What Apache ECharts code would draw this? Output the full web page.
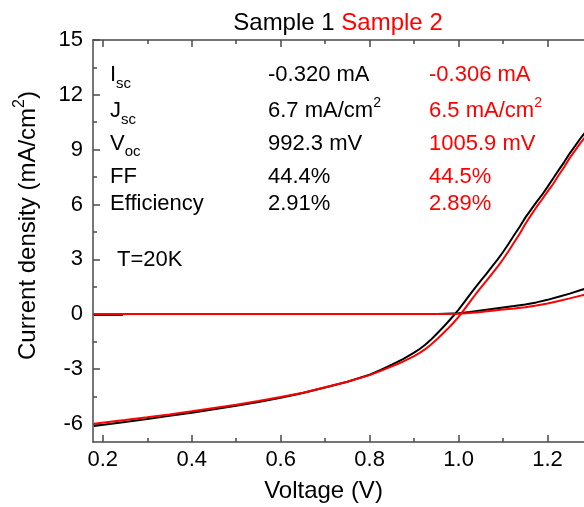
<!DOCTYPE html>
<html><head><meta charset="utf-8">
<script src="https://cdn.jsdelivr.net/npm/echarts@6/dist/echarts.min.js"></script>
<style>html,body{margin:0;padding:0;background:#fff}#c{width:584px;height:507px}</style>
</head><body><div id="c"></div>
<script>
const FONT = "'Liberation Sans', Arial, sans-serif";

// ---- data ----
const lightV = [0.18, 0.25, 0.3, 0.35, 0.4, 0.45, 0.5, 0.55, 0.6, 0.65, 0.7, 0.75, 0.8, 0.825,
  0.85, 0.8625, 0.875, 0.8875, 0.9, 0.9125, 0.925, 0.9375, 0.95, 0.9625, 0.975, 0.9875, 1.0, 1.0125, 1.025, 1.0375,
  1.05, 1.0625, 1.075, 1.0875, 1.1, 1.1125, 1.125, 1.1375, 1.15, 1.1625, 1.175, 1.1875, 1.2, 1.2125, 1.225, 1.2375,
  1.25, 1.2625, 1.275, 1.29];
const lightBlack = [-6.13, -5.9, -5.74, -5.57, -5.4, -5.21, -5.02, -4.81, -4.58, -4.32, -4.02, -3.7, -3.32, -3.05,
  -2.77, -2.62, -2.46, -2.29, -2.11, -1.91, -1.68, -1.41, -1.1, -0.79, -0.46, -0.12, 0.24, 0.64, 1.05, 1.45,
  1.83, 2.2, 2.6, 2.98, 3.4, 3.85, 4.33, 4.78, 5.28, 5.7, 6.13, 6.52, 6.96, 7.42, 7.88, 8.32,
  8.8, 9.22, 9.65, 10.1];
const lightRed = [-6.0, -5.8, -5.65, -5.49, -5.32, -5.14, -4.96, -4.76, -4.54, -4.3, -4.0, -3.7, -3.34, -3.11,
  -2.86, -2.73, -2.6, -2.45, -2.3, -2.12, -1.92, -1.68, -1.41, -1.12, -0.82, -0.5, -0.15, 0.24, 0.65, 1.06,
  1.45, 1.82, 2.2, 2.58, 3.0, 3.45, 3.93, 4.4, 4.93, 5.4, 5.85, 6.27, 6.7, 7.12, 7.6, 8.05,
  8.55, 8.97, 9.4, 9.85];
const darkBlackV = [0.18, 0.245, 0.6, 0.953, 1.0, 1.025, 1.05, 1.075, 1.1, 1.125, 1.15, 1.175, 1.2, 1.225, 1.25, 1.275, 1.29];
const darkBlack = [-0.05, -0.05, null, 0, 0.05, 0.12, 0.2, 0.28, 0.36, 0.44, 0.53, 0.64, 0.78, 0.95, 1.12, 1.32, 1.42];
const darkRedV = [0.18, 0.95, 1.0, 1.025, 1.05, 1.075, 1.1, 1.125, 1.15, 1.175, 1.2, 1.225, 1.25, 1.275, 1.29];
const darkRed = [0, 0, 0.02, 0.06, 0.12, 0.18, 0.25, 0.31, 0.38, 0.47, 0.58, 0.72, 0.86, 1.01, 1.1];

const xMajorTicks = [0.2, 0.4, 0.6, 0.8, 1.0, 1.2];
const xMinorTicks = [0.3, 0.5, 0.7, 0.9, 1.1];
const yMajorTicks = [-6, -3, 0, 3, 6, 9, 12, 15];
const yMinorTicks = [-4.5, -1.5, 1.5, 4.5, 7.5, 10.5, 13.5];

const titleParts = ['Sample 1', 'Sample 2'];
const xName = 'Voltage (V)';
const yName = ['Current density (mA/cm', '2', ')'];
const paramNames = [['I', 'sc'], ['J', 'sc'], ['V', 'oc'], ['FF', ''], ['Efficiency', '']];
const sample1Values = [['-0.320 mA', ''], ['6.7 mA/cm', '2'], ['992.3 mV', ''], ['44.4%', ''], ['2.91%', '']];
const sample2Values = [['-0.306 mA', ''], ['6.5 mA/cm', '2'], ['1005.9 mV', ''], ['44.5%', ''], ['2.89%', '']];
const tempLabel = 'T=20K';

// ---- layout ----
const X_MIN = 0.178, X_MAX = 1.3, Y_MIN = -7, Y_MAX = 15;
const rowCenters = [75.1, 110.7, 144.1, 177.4, 204.4];
const subOffsets = [9, 9, 7.5, 0, 0];
const colX = [110, 268, 429];

const axisLineStyle = { color: '#4a4a4a', width: 1.5 };

function xAx(pos, ticks, len, labels, line) {
  return {
    type: 'value', position: pos, min: X_MIN, max: X_MAX,
    axisLine: { show: line, onZero: false, lineStyle: axisLineStyle },
    axisTick: { show: true, inside: true, length: len, customValues: ticks, lineStyle: axisLineStyle },
    axisLabel: labels ? { show: true, customValues: ticks, formatter: v => v.toFixed(1), fontSize: 22, fontFamily: FONT, color: '#000', margin: 7 } : { show: false },
    splitLine: { show: false }, minorTick: { show: false }
  };
}
function yAx(pos, ticks, len, labels, line) {
  return {
    type: 'value', position: pos, min: Y_MIN, max: Y_MAX,
    axisLine: { show: line, onZero: false, lineStyle: axisLineStyle },
    axisTick: { show: true, inside: true, length: len, customValues: ticks, lineStyle: axisLineStyle },
    axisLabel: labels ? { show: true, customValues: ticks, formatter: v => String(v), fontSize: 22, fontFamily: FONT, color: '#000', margin: 10 } : { show: false },
    splitLine: { show: false }, minorTick: { show: false }
  };
}

function pairs(xs, ys) { return xs.map((x, i) => [x, ys[i] === null ? '-' : ys[i]]); }

const MAIN_H = 36;
function richStyles(color) {
  return {
    m: { fontSize: 22, fontFamily: FONT, fill: color, height: MAIN_H, verticalAlign: 'top' },
    sub9: { fontSize: 15, fontFamily: FONT, fill: color, height: MAIN_H + 18, verticalAlign: 'top' },
    sub7: { fontSize: 15, fontFamily: FONT, fill: color, height: MAIN_H + 15, verticalAlign: 'top' },
    sup: { fontSize: 14, fontFamily: FONT, fill: color, height: MAIN_H - 14.4, verticalAlign: 'top' }
  };
}
function txt(x, yCenter, text, color) {
  return {
    type: 'text', x: x, y: yCenter - MAIN_H / 2, silent: true,
    style: { text: text, rich: richStyles(color), fill: color, font: '22px ' + FONT,
      align: 'left', textAlign: 'left', verticalAlign: 'top', textVerticalAlign: 'top' }
  };
}

const graphics = [];
paramNames.forEach((p, i) => {
  const subKey = subOffsets[i] >= 8.5 ? 'sub9' : 'sub7';
  graphics.push(txt(colX[0], rowCenters[i], '{m|' + p[0] + '}' + (p[1] ? '{' + subKey + '|' + p[1] + '}' : ''), '#000'));
  const a = sample1Values[i], b = sample2Values[i];
  graphics.push(txt(colX[1], rowCenters[i], '{m|' + a[0] + '}' + (a[1] ? '{sup|' + a[1] + '}' : ''), '#000'));
  graphics.push(txt(colX[2], rowCenters[i], '{m|' + b[0] + '}' + (b[1] ? '{sup|' + b[1] + '}' : ''), '#ff0000'));
});
graphics.push(txt(117, 260.4, '{m|' + tempLabel + '}', '#000'));

// title
graphics.push({
  type: 'text', x: 338, y: 23.7, silent: true,
  style: { text: '{a|' + titleParts[0] + '} {b|' + titleParts[1] + '}', font: '24px ' + FONT, fill: '#000',
    rich: { a: { fontSize: 24, fontFamily: FONT, fill: '#000' }, b: { fontSize: 24, fontFamily: FONT, fill: '#ff0000' } },
    align: 'center', textAlign: 'center', verticalAlign: 'middle', textVerticalAlign: 'middle' }
});
// x name
graphics.push({
  type: 'text', x: 323.5, y: 491.7, silent: true,
  style: { text: xName, font: '24px ' + FONT, fill: '#000', align: 'center', textAlign: 'center', verticalAlign: 'middle', textVerticalAlign: 'middle' }
});
// y name
graphics.push({
  type: 'text', x: 28.5, y: 225.5, rotation: Math.PI / 2, silent: true,
  style: { text: '{n|' + yName[0] + '}{s|' + yName[1] + '}{n|' + yName[2] + '}', font: '24px ' + FONT, fill: '#000',
    rich: { n: { fontSize: 24, fontFamily: FONT, fill: '#000', height: 36, verticalAlign: 'top' },
            s: { fontSize: 16, fontFamily: FONT, fill: '#000', height: 18, verticalAlign: 'top' } },
    align: 'center', textAlign: 'center', verticalAlign: 'middle', textVerticalAlign: 'middle' }
});

const lineBase = { type: 'line', showSymbol: false, symbol: 'none', connectNulls: false, animation: false, xAxisIndex: 0, yAxisIndex: 0, silent: true };
const option = {
  backgroundColor: '#fff',
  animation: false,
  grid: { left: 93, top: 40, right: -8, bottom: 65, containLabel: false, outerBoundsMode: 'none' },
  xAxis: [
    xAx('bottom', xMajorTicks, 7, true, true),
    xAx('bottom', xMinorTicks, 4, false, false),
    xAx('top', xMajorTicks, 7, false, true),
    xAx('top', xMinorTicks, 4, false, false)
  ],
  yAxis: [
    yAx('left', yMajorTicks, 7, true, true),
    yAx('left', yMinorTicks, 4, false, false),
    yAx('right', yMajorTicks, 7, false, true),
    yAx('right', yMinorTicks, 4, false, false)
  ],
  series: [
    Object.assign({}, lineBase, { name: 'Sample 1 dark', data: pairs(darkBlackV, darkBlack), lineStyle: { color: '#000', width: 2 }, itemStyle: { color: '#000' }, z: 2 }),
    Object.assign({}, lineBase, { name: 'Sample 1', data: pairs(lightV, lightBlack), lineStyle: { color: '#000', width: 2 }, itemStyle: { color: '#000' }, z: 3 }),
    Object.assign({}, lineBase, { name: 'Sample 2 dark', data: pairs(darkRedV, darkRed), lineStyle: { color: '#ff0000', width: 2 }, itemStyle: { color: '#ff0000' }, z: 4 }),
    Object.assign({}, lineBase, { name: 'Sample 2', data: pairs(lightV, lightRed), lineStyle: { color: '#ff0000', width: 2 }, itemStyle: { color: '#ff0000' }, z: 5 })
  ],
  graphic: graphics
};
const chart = echarts.init(document.getElementById('c'), null, { renderer: 'canvas' });
chart.setOption(option);
</script>
</body></html>
